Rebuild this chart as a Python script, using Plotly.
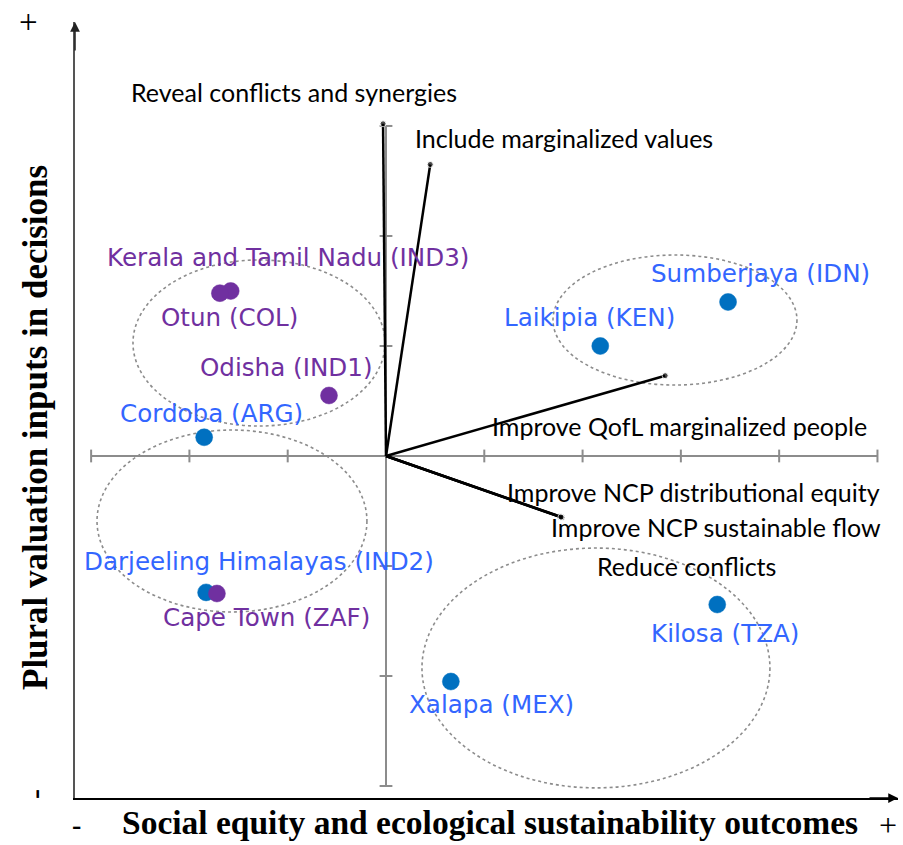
import plotly.graph_objects as go

# ---- data ----
case_names = ["Sumberjaya (IDN)", "Laikipia (KEN)", "Kerala and Tamil Nadu (IND3)", "Otun (COL)",
              "Odisha (IND1)", "Cordoba (ARG)", "Darjeeling Himalayas (IND2)", "Cape Town (ZAF)",
              "Kilosa (TZA)", "Xalapa (MEX)"]
case_x = [3.48, 2.18, -1.58, -1.69, -0.58, -1.85, -1.83, -1.72, 3.37, 0.66]
case_y = [1.40, 1.00, 1.50, 1.48, 0.55, 0.17, -1.24, -1.25, -1.35, -2.05]
case_group = ["blue", "blue", "purple", "purple", "purple", "blue", "blue", "purple", "blue", "blue"]

vector_names = ["Reveal conflicts and synergies", "Include marginalized values",
                "Improve QofL marginalized people", "Improve NCP distributional equity",
                "Improve NCP sustainable flow", "Reduce conflicts"]
vector_x = [-0.03, 0.45, 2.84, 1.77, 1.79, 1.78]
vector_y = [3.02, 2.65, 0.73, -0.55, -0.56, -0.555]

x_ticks = [-3, -2, -1, 0, 1, 2, 3, 4, 5]
y_ticks = [-3, -2, -1, 0, 1, 2, 3]

# label placement (data units)
case_label_x = [3.81, 2.075, -1.00, -1.59, -1.01, -1.78, -1.29, -1.22, 3.45, 1.07]
case_label_y = [1.66, 1.255, 1.80, 1.255, 0.80, 0.39, -0.96, -1.47, -1.61, -2.26]
vector_label_x = [-0.94, 1.81, 2.99, 3.13, 3.36, 3.06]
vector_label_y = [3.31, 2.89, 0.27, -0.33, -0.645, -1.0]

# cluster ellipses: centre x, centre y, radius x, radius y
ellipses = [(-1.292, 1.027, 1.282, 0.755), (-1.567, -0.591, 1.373, 0.827),
            (2.94, 1.236, 1.241, 0.591), (2.136, -1.927, 1.77, 1.09)]

marker_colors = {"blue": "#0070C0", "purple": "#7030A0"}
text_colors = {"blue": "#3366FF", "purple": "#7030A0"}

X_RANGE = [-3.164, 5.209]
Y_RANGE = [-3.109, 3.945]

fig = go.Figure()

# inner grey axes
fig.add_trace(go.Scatter(x=[x_ticks[0], x_ticks[-1]], y=[0, 0], mode="lines",
                         line=dict(color="#8c8c8c", width=2), hoverinfo="skip"))
fig.add_trace(go.Scatter(x=[0, 0], y=[y_ticks[0], y_ticks[-1]], mode="lines",
                         line=dict(color="#8c8c8c", width=2), hoverinfo="skip"))
tx, ty = [], []
for v in x_ticks:
    tx += [v, v, None]
    ty += [-0.058, 0.058, None]
fig.add_trace(go.Scatter(x=tx, y=ty, mode="lines", line=dict(color="#8c8c8c", width=2), hoverinfo="skip"))
tx, ty = [], []
for v in y_ticks:
    tx += [-0.065, 0.065, None]
    ty += [v, v, None]
fig.add_trace(go.Scatter(x=tx, y=ty, mode="lines", line=dict(color="#8c8c8c", width=2), hoverinfo="skip"))

# ellipses
for cx, cy, rx, ry in ellipses:
    fig.add_shape(type="circle", xref="x", yref="y", x0=cx - rx, x1=cx + rx, y0=cy - ry, y1=cy + ry,
                  line=dict(color="#8c8c8c", width=1.6, dash="dot"), layer="below")

# vectors
for vx, vy in zip(vector_x, vector_y):
    fig.add_trace(go.Scatter(x=[0, vx], y=[0, vy], mode="lines+markers",
                             line=dict(color="black", width=2.5),
                             marker=dict(size=[0, 6], color="black"), hoverinfo="skip"))

# case points
for g in ["blue", "purple"]:
    idx = [i for i, c in enumerate(case_group) if c == g]
    fig.add_trace(go.Scatter(x=[case_x[i] for i in idx], y=[case_y[i] for i in idx], mode="markers",
                             marker=dict(size=17, color=marker_colors[g],
                                         line=dict(width=0.5, color=marker_colors[g])),
                             hoverinfo="skip"))

annotations = []
for name, lx, ly, g in zip(case_names, case_label_x, case_label_y, case_group):
    annotations.append(dict(x=lx, y=ly, xref="x", yref="y", text=name, showarrow=False,
                            font=dict(family="DejaVu Sans", size=24.6, color=text_colors[g])))
for name, lx, ly in zip(vector_names, vector_label_x, vector_label_y):
    annotations.append(dict(x=lx, y=ly, xref="x", yref="y", text=name, showarrow=False,
                            font=dict(family="Lato, Carlito, sans-serif", size=25, color="black")))

# arrowheads of outer axes
annotations.append(dict(x=X_RANGE[0], y=Y_RANGE[1], xref="x", yref="y", text="", showarrow=True,
                        ax=0, ay=30, arrowhead=2, arrowsize=1.3, arrowwidth=1.5, arrowcolor="#222"))
annotations.append(dict(x=X_RANGE[1], y=Y_RANGE[0], xref="x", yref="y", text="", showarrow=True,
                        ax=-30, ay=0, arrowhead=2, arrowsize=1.3, arrowwidth=1.5, arrowcolor="black"))

# axis titles and signs (paper coords; plot area spans px 75..898 x 22..798)
def px(xp):
    return (xp - 75) / 823.0

def py(yp):
    return (798 - yp) / 776.0

serif = "Liberation Serif, Times New Roman, serif"
outer = [
    ("<b>Social equity and ecological sustainability outcomes</b>", 490, 823, 33.5, 0),
    ("<b>Plural valuation inputs in decisions</b>", 36, 428, 35, -90),
    ("+", 28, 22, 33, 0),
    ("<b>-</b>", 34, 794, 30, -90),
    ("<b>-</b>", 76, 824, 28, 0),
    ("+", 888, 825, 32, 0),
]
for txt, xp, yp, fs, ang in outer:
    annotations.append(dict(x=px(xp), y=py(yp), xref="paper", yref="paper", showarrow=False,
                            xanchor="center", yanchor="middle", textangle=ang, text=txt,
                            font=dict(family=serif, size=fs, color="black")))

fig.update_layout(
    width=903, height=845,
    margin=dict(l=75, r=5, t=22, b=47),
    paper_bgcolor="white", plot_bgcolor="white",
    showlegend=False,
    annotations=annotations,
    xaxis=dict(range=X_RANGE, showgrid=False, zeroline=False, showticklabels=False, ticks="",
               showline=True, linecolor="black", linewidth=2),
    yaxis=dict(range=Y_RANGE, showgrid=False, zeroline=False, showticklabels=False, ticks="",
               showline=True, linecolor="#555", linewidth=1.5),
)

fig.write_html("out.html", config={"displayModeBar": False},
               post_script="document.body.style.margin='0px';")
